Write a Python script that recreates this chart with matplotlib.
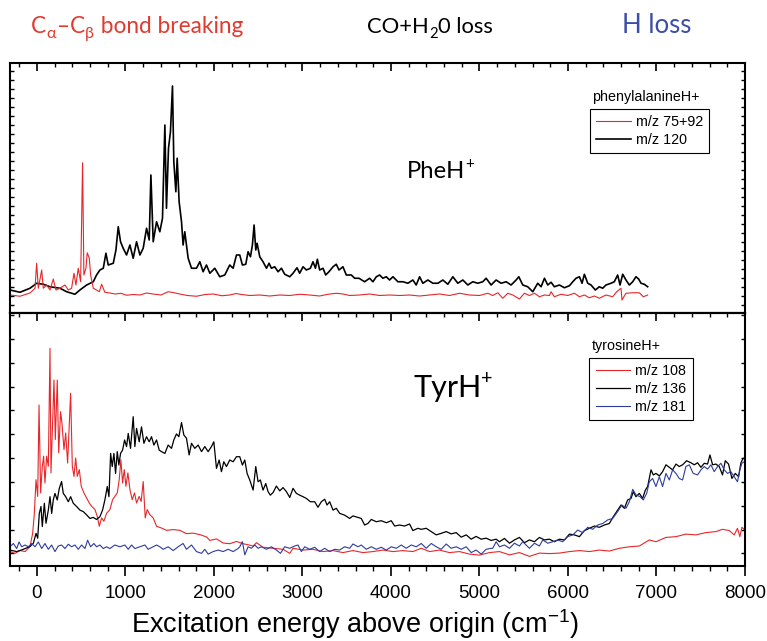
import numpy as np
import matplotlib
matplotlib.use("Agg")
import matplotlib.pyplot as plt
from matplotlib.ticker import MultipleLocator, FixedLocator

# ---------------------------------------------------------------------------
# Spectra: (excitation energy in cm^-1, relative fragment signal, arb. units)
# ---------------------------------------------------------------------------
phe_mz120 = np.array([
    (-305, 9.2), (-192, 8.3), (-79, 9.9), (-4, 11.9), (71, 11.5), (147, 10.5), (260, 9.9),
    (335, 8.5), (429, 7.5), (485, 9.2), (561, 11.2), (636, 12.5), (673, 15.2), (711, 17.2),
    (749, 17.9), (779, 23.9), (805, 19.2), (862, 19.9), (892, 25.2), (918, 34.5), (944, 28.5),
    (974, 25.9), (1012, 23.2), (1050, 27.2), (1087, 21.9), (1125, 28.5), (1163, 23.2),
    (1200, 25.9), (1238, 33.9), (1268, 29.2), (1287, 55.2), (1313, 28.5), (1351, 36.5),
    (1388, 32.5), (1418, 37.9), (1445, 75.2), (1463, 41.9), (1486, 65.9), (1508, 72.5),
    (1531, 90.8), (1546, 60.5), (1569, 48.5), (1584, 61.9), (1606, 44.5), (1633, 36.5),
    (1651, 27.2), (1670, 32.5), (1708, 21.9), (1746, 17.9), (1802, 17.9), (1840, 20.5),
    (1877, 16.5), (1915, 19.2), (1953, 15.9), (2009, 17.9), (2065, 14.5), (2122, 15.2),
    (2178, 19.2), (2216, 17.9), (2254, 23.2), (2291, 23.2), (2321, 19.2), (2359, 19.5),
    (2385, 24.5), (2412, 22.5), (2434, 27.2), (2453, 35.2), (2472, 25.2), (2487, 27.9),
    (2517, 22.5), (2554, 20.5), (2593, 17.9), (2622, 19.9), (2649, 17.9), (2686, 18.5),
    (2724, 16.5), (2762, 17.9), (2799, 15.5), (2856, 14.5), (2893, 15.9), (2938, 18.1),
    (2968, 15.9), (3006, 18.5), (3044, 17.2), (3089, 17.9), (3119, 20.5), (3146, 17.9),
    (3168, 21.5), (3194, 17.2), (3232, 17.9), (3262, 15.2), (3299, 16.5), (3345, 18.5),
    (3382, 19.5), (3412, 17.2), (3457, 18.5), (3495, 15.2), (3552, 15.2), (3589, 13.9),
    (3638, 13.9), (3702, 12.5), (3758, 13.9), (3796, 12.5), (3834, 14.5), (3871, 15.2),
    (3909, 13.9), (3947, 14.5), (3984, 13.2), (4022, 14.5), (4078, 12.5), (4135, 12.5),
    (4191, 11.9), (4247, 13.2), (4285, 11.2), (4323, 14.5), (4360, 11.9), (4417, 13.2),
    (4473, 11.9), (4530, 11.9), (4586, 13.2), (4642, 11.5), (4699, 14.5), (4755, 11.9),
    (4812, 13.2), (4868, 11.2), (4924, 12.5), (4981, 11.9), (5037, 12.5), (5075, 13.9),
    (5131, 11.2), (5188, 13.2), (5244, 11.9), (5301, 12.5), (5357, 11.2), (5414, 13.2),
    (5444, 14.5), (5489, 11.2), (5545, 10.5), (5602, 8.5), (5658, 11.9), (5696, 10.5),
    (5734, 13.9), (5771, 11.2), (5809, 12.3), (5846, 10.5), (5903, 11.2), (5959, 10.1),
    (6016, 10.9), (6054, 12.5), (6091, 13.9), (6129, 14.5), (6159, 11.9), (6185, 15.5),
    (6223, 11.9), (6260, 11.2), (6309, 9.2), (6354, 10.5), (6392, 9.9), (6429, 11.2),
    (6486, 11.9), (6523, 12.5), (6561, 15.2), (6588, 11.2), (6618, 15.5), (6655, 13.2),
    (6693, 11.2), (6731, 12.5), (6768, 14.5), (6798, 13.6), (6825, 11.9), (6862, 11.5),
    (6900, 10.5),
])

phe_mz75_92 = np.array([
    (-305, 7.2), (-192, 6.7), (-79, 8.0), (-22, 9.9), (-4, 19.9), (15, 9.9), (53, 17.2),
    (71, 9.9), (109, 11.2), (147, 9.2), (184, 13.6), (214, 9.2), (260, 9.9), (316, 11.2),
    (354, 9.2), (391, 9.9), (418, 15.9), (440, 11.2), (466, 17.9), (493, 12.5), (515, 60.1),
    (530, 15.2), (553, 17.9), (568, 24.1), (591, 21.9), (606, 15.2), (636, 9.9), (673, 9.2),
    (704, 8.5), (730, 11.5), (767, 8.3), (824, 8.0), (885, 7.6), (950, 7.9), (1012, 7.1),
    (1087, 7.4), (1163, 7.2), (1238, 8.0), (1313, 7.6), (1400, 7.2), (1482, 8.5), (1550, 8.1),
    (1614, 7.6), (1700, 7.0), (1802, 6.7), (1900, 7.4), (1990, 7.6), (2090, 6.9), (2178, 7.2),
    (2250, 7.8), (2291, 7.5), (2404, 7.0), (2517, 7.2), (2630, 6.8), (2743, 7.2), (2856, 7.0),
    (2968, 7.5), (3081, 7.2), (3194, 6.8), (3289, 7.5), (3382, 7.9), (3457, 7.6), (3532, 7.0),
    (3645, 7.2), (3758, 7.6), (3871, 7.0), (3984, 7.2), (4097, 7.0), (4210, 7.2), (4323, 6.8),
    (4436, 7.2), (4548, 7.6), (4661, 7.0), (4774, 7.9), (4887, 7.2), (5000, 7.0), (5094, 7.9),
    (5150, 7.0), (5207, 8.1), (5263, 5.9), (5320, 7.9), (5376, 7.2), (5451, 5.6), (5508, 7.9),
    (5564, 7.0), (5621, 7.9), (5677, 6.5), (5734, 7.2), (5790, 7.0), (5809, 8.5), (5846, 6.5),
    (5921, 7.5), (5997, 7.0), (6072, 7.9), (6129, 6.5), (6185, 7.2), (6241, 6.1), (6298, 6.8),
    (6354, 5.9), (6429, 7.2), (6505, 6.5), (6550, 8.5), (6599, 9.9), (6610, 5.2), (6655, 7.9),
    (6731, 8.1), (6806, 8.1), (6851, 6.5), (6900, 7.2),
])

tyr_mz108 = np.array([
    (-305, 5.7), (-248, 5.0), (-192, 6.1), (-135, 5.7), (-79, 7.7), (-49, 12.9), (-30, 20.8),
    (-11, 34.1), (8, 27.5), (23, 63.6), (41, 28.9), (60, 39.4), (75, 43.4), (90, 32.8),
    (109, 43.4), (128, 39.4), (147, 86.0), (158, 36.8), (177, 57.9), (192, 73.5), (207, 50.0),
    (229, 73.5), (245, 44.7), (267, 61.0), (282, 56.4), (305, 46.0), (324, 52.6), (346, 40.7),
    (365, 56.4), (380, 68.3), (399, 39.4), (418, 35.4), (437, 42.7), (455, 35.4), (478, 38.1),
    (500, 31.5), (530, 28.9), (561, 26.9), (591, 24.9), (617, 23.6), (655, 22.3), (681, 19.6),
    (704, 15.7), (730, 19.0), (756, 17.7), (786, 20.8), (824, 22.3), (854, 26.2), (880, 27.5),
    (907, 28.9), (929, 34.1), (948, 42.0), (967, 32.8), (986, 38.1), (1005, 31.5), (1027, 36.8),
    (1050, 30.2), (1076, 26.2), (1102, 28.9), (1125, 24.9), (1155, 27.5), (1177, 25.5),
    (1200, 33.4), (1223, 19.0), (1245, 22.3), (1275, 20.3), (1313, 19.0), (1351, 15.7),
    (1407, 15.0), (1463, 14.1), (1539, 14.4), (1614, 14.1), (1689, 12.8), (1765, 13.0),
    (1840, 12.4), (1915, 11.5), (1953, 10.1), (2028, 10.7), (2103, 9.1), (2178, 8.8),
    (2254, 9.7), (2329, 8.8), (2385, 8.4), (2442, 7.9), (2480, 9.2), (2554, 7.4), (2667, 7.0),
    (2780, 6.6), (2856, 5.0), (2893, 7.0), (3006, 6.3), (3119, 6.6), (3232, 5.7), (3345, 6.1),
    (3457, 5.3), (3570, 6.1), (3683, 5.3), (3796, 5.7), (3909, 6.3), (4022, 5.7), (4135, 6.1),
    (4247, 5.7), (4342, 7.0), (4436, 5.7), (4548, 6.3), (4661, 5.3), (4774, 5.7), (4887, 4.7),
    (5000, 4.3), (5113, 5.3), (5226, 5.7), (5339, 4.4), (5451, 5.3), (5564, 3.8), (5677, 5.1),
    (5790, 4.9), (5903, 5.1), (6016, 5.7), (6129, 6.1), (6242, 5.7), (6354, 6.3), (6467, 5.9),
    (6580, 7.0), (6693, 7.6), (6806, 7.9), (6919, 10.3), (6994, 9.6), (7107, 11.3),
    (7220, 11.6), (7332, 12.6), (7445, 12.3), (7558, 13.2), (7671, 13.6), (7746, 14.5),
    (7822, 14.0), (7878, 12.3), (7915, 14.9), (7942, 11.6), (7965, 15.3), (7991, 14.5),
])

tyr_mz136 = np.array([
    (-305, 6.3), (-229, 5.7), (-154, 6.6), (-79, 7.7), (-41, 9.0), (-11, 12.9), (8, 11.0),
    (26, 20.8), (45, 23.5), (60, 15.6), (83, 24.8), (102, 16.9), (128, 22.1), (147, 27.4),
    (166, 20.8), (184, 26.1), (203, 28.7), (229, 26.1), (252, 30.7), (278, 33.4), (297, 28.7),
    (324, 27.4), (354, 25.4), (380, 27.4), (410, 24.8), (448, 23.5), (485, 22.1), (523, 21.5),
    (561, 20.2), (598, 18.8), (636, 19.2), (673, 18.4), (711, 19.5), (741, 22.1), (767, 26.1),
    (794, 31.4), (813, 27.4), (832, 44.5), (850, 39.3), (869, 44.5), (888, 36.6), (907, 45.2),
    (925, 39.9), (944, 44.5), (967, 45.8), (990, 49.8), (1012, 47.2), (1031, 52.4),
    (1057, 46.5), (1087, 59.0), (1106, 47.2), (1125, 54.4), (1155, 49.1), (1181, 55.0),
    (1208, 48.5), (1238, 51.1), (1268, 49.1), (1294, 51.1), (1321, 47.8), (1351, 49.8),
    (1381, 45.8), (1407, 45.2), (1445, 44.5), (1482, 47.8), (1520, 46.5), (1546, 49.8),
    (1576, 52.2), (1603, 51.1), (1633, 56.7), (1659, 51.8), (1689, 50.5), (1719, 43.9),
    (1746, 48.5), (1783, 46.5), (1821, 47.8), (1859, 45.2), (1896, 47.2), (1934, 45.2),
    (1971, 47.2), (1998, 49.1), (2028, 38.6), (2058, 41.9), (2084, 37.3), (2111, 41.2),
    (2141, 39.3), (2178, 41.9), (2216, 41.2), (2254, 43.2), (2291, 43.2), (2321, 39.9),
    (2348, 41.9), (2374, 36.6), (2404, 34.0), (2442, 30.0), (2472, 39.3), (2498, 33.3),
    (2524, 34.0), (2554, 30.0), (2585, 32.6), (2611, 29.4), (2637, 28.0), (2667, 29.0),
    (2705, 31.6), (2743, 29.7), (2780, 31.0), (2818, 29.4), (2856, 27.1), (2893, 30.7),
    (2931, 28.7), (2968, 28.0), (3006, 27.4), (3044, 26.7), (3089, 25.4), (3138, 25.4),
    (3175, 23.2), (3213, 25.4), (3251, 26.4), (3277, 24.1), (3307, 25.4), (3345, 22.1),
    (3382, 22.8), (3420, 20.8), (3476, 20.1), (3533, 18.8), (3570, 19.8), (3627, 19.2),
    (3664, 18.8), (3702, 16.2), (3739, 16.8), (3777, 18.4), (3834, 17.5), (3890, 17.9),
    (3947, 17.1), (4003, 17.9), (4041, 15.8), (4097, 16.2), (4153, 15.8), (4210, 16.6),
    (4247, 14.0), (4304, 14.9), (4342, 14.5), (4398, 14.9), (4455, 13.6), (4511, 12.3),
    (4567, 12.9), (4624, 13.6), (4680, 12.7), (4737, 13.2), (4793, 11.4), (4850, 12.3),
    (4906, 10.6), (4962, 11.7), (5019, 10.6), (5075, 11.0), (5131, 10.1), (5188, 10.6),
    (5226, 9.6), (5282, 10.9), (5339, 9.0), (5395, 10.3), (5451, 11.3), (5508, 9.2),
    (5564, 10.3), (5621, 9.6), (5677, 11.3), (5734, 10.3), (5790, 10.6), (5846, 9.6),
    (5903, 10.6), (5959, 10.3), (6016, 12.6), (6072, 12.3), (6129, 11.6), (6185, 14.0),
    (6242, 14.9), (6298, 15.8), (6354, 15.3), (6411, 16.2), (6467, 16.8), (6512, 19.5),
    (6561, 22.1), (6599, 24.1), (6637, 22.8), (6674, 26.1), (6712, 26.7), (6738, 29.4),
    (6768, 27.4), (6806, 28.7), (6843, 26.7), (6874, 30.0), (6900, 31.4), (6938, 38.0),
    (6964, 36.0), (6994, 36.6), (7032, 35.6), (7069, 37.3), (7107, 40.0), (7145, 39.0),
    (7182, 38.0), (7220, 40.3), (7257, 39.3), (7295, 40.0), (7340, 41.6), (7389, 40.8),
    (7427, 40.0), (7464, 40.8), (7502, 39.0), (7540, 40.6), (7577, 40.3), (7604, 43.9),
    (7634, 40.0), (7671, 40.3), (7709, 39.3), (7746, 36.0), (7777, 41.6), (7814, 40.3),
    (7852, 34.6), (7890, 36.6), (7927, 35.3), (7954, 40.8), (7980, 42.6),
])

tyr_mz181 = np.array([
    (-305, 7.6), (-267, 8.9), (-229, 6.9), (-203, 9.5), (-173, 7.6), (-135, 8.3), (-98, 7.6),
    (-60, 8.9), (-22, 7.6), (15, 9.5), (53, 6.9), (90, 8.9), (128, 6.6), (166, 8.3), (203, 5.7),
    (241, 7.9), (278, 8.3), (316, 6.9), (354, 8.6), (391, 7.6), (429, 8.3), (466, 6.6),
    (504, 8.3), (542, 6.9), (572, 10.2), (606, 7.6), (643, 8.9), (673, 7.6), (711, 8.3),
    (749, 6.9), (786, 7.6), (824, 6.9), (880, 8.3), (937, 7.6), (993, 8.3), (1031, 6.6),
    (1069, 8.3), (1106, 6.9), (1163, 7.6), (1219, 8.3), (1256, 6.6), (1313, 7.6), (1351, 8.3),
    (1388, 7.6), (1426, 6.6), (1482, 7.6), (1539, 6.1), (1595, 7.6), (1651, 8.9), (1689, 6.6),
    (1746, 8.3), (1802, 5.7), (1859, 5.0), (1896, 6.6), (1934, 4.7), (1990, 5.7), (2047, 6.3),
    (2103, 5.7), (2160, 6.6), (2216, 5.7), (2272, 6.9), (2291, 7.6), (2321, 9.6), (2348, 4.4),
    (2385, 7.6), (2423, 7.0), (2461, 8.3), (2498, 7.0), (2536, 7.6), (2593, 6.6), (2649, 7.6),
    (2705, 6.3), (2751, 5.0), (2799, 7.6), (2856, 7.0), (2912, 7.9), (2949, 8.3), (2987, 5.7),
    (3025, 7.6), (3081, 6.6), (3138, 7.4), (3194, 5.7), (3251, 7.0), (3307, 5.7), (3363, 6.6),
    (3420, 6.3), (3476, 7.6), (3533, 7.0), (3570, 8.7), (3627, 7.6), (3664, 8.3), (3721, 6.6),
    (3777, 7.6), (3834, 6.6), (3890, 7.4), (3947, 6.3), (4003, 7.6), (4060, 7.0), (4116, 8.3),
    (4172, 7.0), (4229, 8.3), (4285, 7.6), (4342, 8.9), (4398, 7.0), (4455, 8.9), (4511, 7.6),
    (4567, 6.6), (4624, 8.7), (4680, 7.0), (4737, 7.6), (4793, 6.6), (4850, 7.6), (4906, 5.3),
    (4962, 6.3), (5019, 4.7), (5075, 6.6), (5131, 7.0), (5150, 7.0), (5188, 9.6), (5226, 7.6),
    (5282, 8.3), (5339, 7.0), (5395, 9.0), (5451, 7.9), (5489, 9.6), (5527, 8.3), (5564, 7.0),
    (5621, 9.0), (5677, 7.9), (5715, 10.3), (5771, 9.0), (5828, 9.6), (5884, 10.3),
    (5940, 9.6), (5997, 11.6), (6054, 12.3), (6110, 14.2), (6166, 13.2), (6223, 15.3),
    (6279, 14.5), (6336, 16.2), (6392, 16.8), (6448, 18.2), (6505, 18.8), (6561, 21.5),
    (6610, 24.1), (6655, 22.8), (6693, 25.4), (6731, 30.3), (6768, 28.1), (6814, 27.4),
    (6851, 26.1), (6889, 28.7), (6919, 33.3), (6956, 34.6), (6994, 31.4), (7032, 35.3),
    (7069, 31.4), (7107, 36.6), (7145, 34.0), (7182, 38.0), (7220, 36.6), (7257, 34.6),
    (7295, 34.0), (7332, 39.3), (7370, 40.0), (7415, 36.6), (7464, 36.0), (7502, 38.0),
    (7540, 39.3), (7577, 38.3), (7615, 40.0), (7652, 37.3), (7690, 39.3), (7728, 40.6),
    (7765, 38.0), (7803, 36.6), (7840, 37.3), (7878, 35.3), (7915, 33.3), (7942, 38.0),
    (7965, 40.6), (7991, 41.2),
])

phe_labels = ["m/z 75+92", "m/z 120"]
tyr_labels = ["m/z 108", "m/z 136", "m/z 181"]
x_range = (-305, 8000)
x_tick_step, x_minor_step = 1000, 200
top_y_ticks = np.arange(3.2, 100, 3.6)
bot_y_ticks = np.arange(5.0, 100, 9.42)

# ---------------------------------------------------------------------------
RED = "#E8262A"
BLUE = "#2D3C9E"
HEAD_RED = "#E33A2F"
HEAD_BLUE = "#3C4DAA"
HEAD_FONT = ["Lato", "DejaVu Sans"]

W, H, DPI = 767, 641, 100
plt.rcParams["font.family"] = ["Liberation Sans", "DejaVu Sans"]
plt.rcParams["mathtext.default"] = "regular"

fig = plt.figure(figsize=(W / DPI, H / DPI), dpi=DPI)


def frac_x(px):
    return px / W


def frac_y(py):
    return 1 - py / H


ax_top = fig.add_axes([frac_x(10), frac_y(313), frac_x(745) - frac_x(10), frac_y(63) - frac_y(313)])
ax_bot = fig.add_axes([frac_x(10), frac_y(566), frac_x(745) - frac_x(10), frac_y(313) - frac_y(566)])


def base_style(ax, yticks):
    ax.set_xlim(*x_range)
    ax.set_ylim(0, 100)
    for sp in ax.spines.values():
        sp.set_linewidth(1.5)
    ax.xaxis.set_major_locator(MultipleLocator(x_tick_step))
    ax.xaxis.set_minor_locator(MultipleLocator(x_minor_step))
    ax.yaxis.set_major_locator(FixedLocator(yticks))
    ax.tick_params(axis="y", which="both", left=True, right=True, direction="in",
                   length=3, width=1, labelleft=False)


base_style(ax_top, top_y_ticks)
base_style(ax_bot, bot_y_ticks)

# top panel: inward ticks on the upper edge only
ax_top.tick_params(axis="x", which="both", bottom=False, top=True, labelbottom=False,
                   direction="in")
ax_top.tick_params(axis="x", which="major", length=6, width=1.2)
ax_top.tick_params(axis="x", which="minor", length=3, width=1)

# bottom panel: labelled outward ticks below, inward ticks on the upper edge
ax_bot.tick_params(axis="x", which="major", direction="out", length=7, width=1.2,
                   labelsize=13.5, pad=7)
ax_bot.tick_params(axis="x", which="minor", direction="out", length=3.5, width=1)
sec = ax_bot.secondary_xaxis("top")
sec.xaxis.set_major_locator(MultipleLocator(x_tick_step))
sec.xaxis.set_minor_locator(MultipleLocator(x_minor_step))
sec.tick_params(axis="x", which="both", direction="in", labeltop=False)
sec.tick_params(axis="x", which="major", length=6, width=1.2)
sec.tick_params(axis="x", which="minor", length=3, width=1)
for sp in sec.spines.values():
    sp.set_linewidth(1.5)

# ---------------------------------------------------------------------------
l120, = ax_top.plot(phe_mz120[:, 0], phe_mz120[:, 1], color="black", lw=1.2)
l75, = ax_top.plot(phe_mz75_92[:, 0], phe_mz75_92[:, 1], color=RED, lw=0.8)

l108, = ax_bot.plot(tyr_mz108[:, 0], tyr_mz108[:, 1], color=RED, lw=0.8)
l136, = ax_bot.plot(tyr_mz136[:, 0], tyr_mz136[:, 1], color="black", lw=0.9)
l181, = ax_bot.plot(tyr_mz181[:, 0], tyr_mz181[:, 1], color=BLUE, lw=0.8)

leg_kw = dict(loc="upper left", borderaxespad=0, frameon=True, fancybox=False,
              edgecolor="black", framealpha=1, fontsize=10.3, handlelength=2.4,
              handletextpad=0.35, borderpad=0.45, labelspacing=0.25)
leg1 = ax_top.legend([l75, l120], phe_labels, bbox_to_anchor=(0.789, 0.816), **leg_kw)
leg1.get_frame().set_linewidth(0.8)
ax_top.text(0.792, 0.846, "phenylalanineH+", transform=ax_top.transAxes,
            fontsize=10.3, ha="left", va="baseline")

leg2 = ax_bot.legend([l108, l136, l181], tyr_labels, bbox_to_anchor=(0.788, 0.822), **leg_kw)
leg2.get_frame().set_linewidth(0.8)
ax_bot.text(0.792, 0.854, "tyrosineH+", transform=ax_bot.transAxes,
            fontsize=10.3, ha="left", va="baseline")

ax_bot.text(0.469, -0.263, "Excitation energy above origin (cm$^{-1}$)",
            transform=ax_bot.transAxes, fontsize=19.5, ha="center", va="baseline")

# ---------------------------------------------------------------------------
# Rich text with sub/superscripts, laid out piece by piece in figure pixels
renderer = fig.canvas.get_renderer()


def rich_text(x_px, base_py, parts, color, size, family=HEAD_FONT):
    x = x_px
    size_px = size * DPI / 72
    for s, scale, rise, gap in parts:
        x += gap * size_px
        t = fig.text(x / W, (H - base_py + rise * size_px) / H, s, color=color,
                     fontsize=size * scale, family=family, ha="left", va="baseline")
        x = t.get_window_extent(renderer=renderer).x1


rich_text(31, 33.3, [("C", 1, 0, 0), ("α", 0.72, -0.22, 0.02), ("–C", 1, 0, 0.02),
                     ("β", 0.72, -0.22, 0.02), (" bond breaking", 1, 0, 0.03)],
          HEAD_RED, 16.3)
rich_text(367, 33.3, [("CO+H", 1, 0, 0), ("2", 0.68, -0.2, 0.01), ("0 loss", 1, 0, 0.01)],
          "black", 15.8)
rich_text(622, 33.3, [("H loss", 1, 0, 0)], HEAD_BLUE, 18.5)

rich_text(407, 178.3, [("PheH", 1, 0, 0), ("+", 0.65, 0.42, 0.0)], "black", 17.2)
rich_text(413, 397, [("TyrH", 1, 0, 0), ("+", 0.65, 0.42, 0.0)], "black", 22)

fig.savefig("out.png", dpi=DPI)
